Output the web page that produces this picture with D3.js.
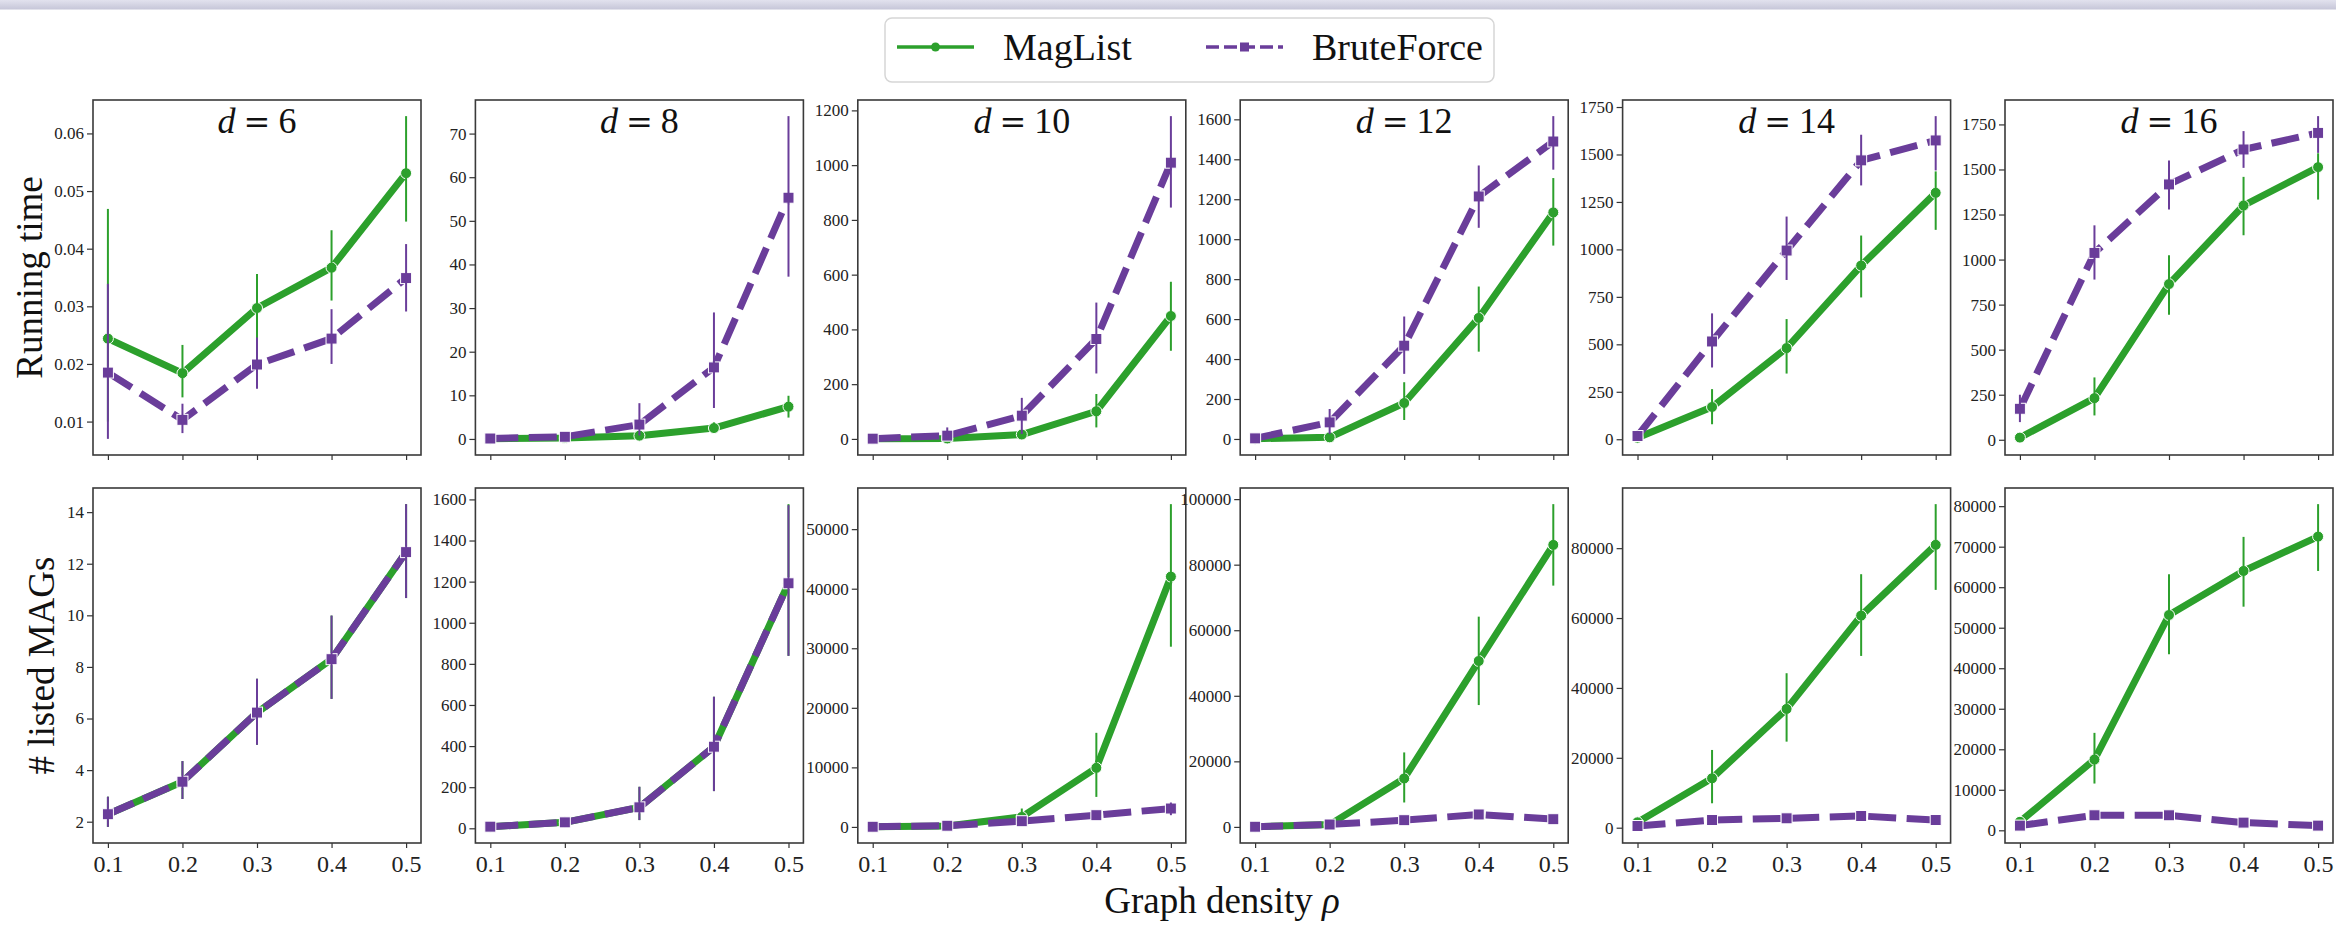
<!DOCTYPE html>
<html>
<head>
<meta charset="utf-8">
<script src="https://cdn.jsdelivr.net/npm/d3@7"></script>
<style>
  body { margin: 0; background: #fff; }
  svg { display: block; }
</style>
</head>
<body>
<div id="plot"></div>
<script>
// ---- data ----
const densities = [0.1, 0.2, 0.3, 0.4, 0.5];
const dValues = [6, 8, 10, 12, 14, 16];
const seriesNames = ["MagList", "BruteForce"];

// running time, one row per d
const timeMag   = [[0.0244, 0.0184, 0.0297, 0.0367, 0.0531], [0.05, 0.2, 0.75, 2.5, 7.4], [0.5, 1.5, 16, 101, 449], [1.5, 8, 180, 606, 1134], [8, 170, 480, 915, 1298], [12, 231, 864, 1300, 1513]];
const timeMagLo = [[0.010, 0.0142, 0.0240, 0.0310, 0.0447], [0.02, 0.1, 0.4, 1.5, 4.9], [0.2, 0.8, 5, 42, 322], [0.5, 3, 95, 437, 968], [3, 79, 346, 747, 1103], [5, 135, 694, 1135, 1333]];
const timeMagHi = [[0.0469, 0.0233, 0.0356, 0.0432, 0.0630], [0.1, 0.35, 1.2, 3.8, 9.9], [1, 2.5, 28, 164, 574], [3, 15, 284, 763, 1306], [15, 264, 633, 1073, 1411], [20, 346, 1024, 1459, 1590]];
const timeBF    = [[0.0185, 0.0103, 0.0199, 0.0244, 0.0349], [0.1, 0.5, 3.3, 16.4, 55.3], [1, 12, 85, 365, 1009], [3, 83, 467, 1214, 1489], [17, 515, 994, 1469, 1574], [172, 1037, 1417, 1611, 1703]];
const timeBFLo  = [[0.0070, 0.0080, 0.0157, 0.0200, 0.0291], [0.09, 0.3, 0.8, 7.1, 37.2], [1.7, 2, 18, 239, 845], [1.6, 25, 326, 1057, 1348], [2, 378, 839, 1337, 1416], [98, 889, 1278, 1509, 1592]];
const timeBFHi  = [[0.0339, 0.0131, 0.0246, 0.0295, 0.0408], [0.2, 0.8, 8.2, 29.0, 74.0], [2, 42, 150, 498, 1179], [5, 150, 613, 1369, 1616], [44, 663, 1173, 1604, 1702], [250, 1190, 1550, 1713, 1796]];

// number of listed MAGs
const countMag   = [[2.29, 3.55, 6.23, 8.30, 12.45], [8, 29, 102, 397, 1192], [40, 150, 1680, 9920, 42030], [60, 700, 14780, 50610, 86040], [1550, 14140, 33990, 60700, 80950], [2100, 17470, 53140, 64010, 72490]];
const countMagLo = [[1.80, 2.88, 4.98, 6.76, 10.67], [7, 22, 40, 181, 839], [20, 80, 400, 5040, 30260], [10, 300, 7450, 37170, 73610], [900, 6990, 24630, 49160, 68060], [1200, 11540, 43430, 55190, 64010]];
const countMagHi = [[2.97, 4.35, 7.54, 9.99, 14.31], [10, 37, 202, 640, 1577], [70, 260, 3090, 15800, 54200], [120, 1200, 22720, 64140, 98470], [2300, 22250, 44210, 72550, 92600], [3200, 24050, 63200, 72420, 80500]];
const countBF    = [[2.29, 3.55, 6.23, 8.30, 12.45], [8, 29, 102, 397, 1192], [30, 200, 960, 1970, 3090], [50, 730, 2050, 3790, 2350], [490, 2200, 2690, 3350, 2200], [1160, 3710, 3710, 1900, 1160]];
const countBFLo  = [[1.80, 2.88, 4.98, 6.76, 10.67], [7, 22, 40, 181, 839], [10, 100, 600, 1500, 1970], [10, 400, 1500, 3000, 1800], [240, 1500, 2000, 2600, 1600], [850, 3000, 3000, 1400, 900]];
const countBFHi  = [[2.97, 4.35, 7.54, 9.99, 14.31], [10, 37, 202, 640, 1572], [60, 300, 1300, 2500, 4100], [100, 1100, 2600, 4600, 2900], [800, 2900, 3400, 4100, 2800], [1500, 4400, 4400, 2400, 1450]];

const timeTicks = [
  [0.01, 0.02, 0.03, 0.04, 0.05, 0.06],
  [0, 10, 20, 30, 40, 50, 60, 70],
  [0, 200, 400, 600, 800, 1000, 1200],
  [0, 200, 400, 600, 800, 1000, 1200, 1400, 1600],
  [0, 250, 500, 750, 1000, 1250, 1500, 1750],
  [0, 250, 500, 750, 1000, 1250, 1500, 1750]];
const countTicks = [
  [2, 4, 6, 8, 10, 12, 14],
  [0, 200, 400, 600, 800, 1000, 1200, 1400, 1600],
  [0, 10000, 20000, 30000, 40000, 50000],
  [0, 20000, 40000, 60000, 80000, 100000],
  [0, 20000, 40000, 60000, 80000],
  [0, 10000, 20000, 30000, 40000, 50000, 60000, 70000, 80000]];

// ---- layout ----
const W = 2336, H = 935;
const green = "#2ca02c", purple = "#6a3d9a";
const panelW = 328, panelH = 355, rowY = [100, 488];
const panelX = i => 93 + i * 382.4;
const serif = "'Liberation Serif', 'Times New Roman', serif";

const svg = d3.select("#plot").append("svg").attr("width", W).attr("height", H);

// thin band at the top of the screenshot
const grad = svg.append("defs").append("linearGradient").attr("id", "band").attr("x1", 0).attr("y1", 0).attr("x2", 0).attr("y2", 1);
grad.append("stop").attr("offset", 0).attr("stop-color", "#e2e2ee");
grad.append("stop").attr("offset", 1).attr("stop-color", "#c6c6d8");
svg.append("rect").attr("width", W).attr("height", 9.5).attr("fill", "url(#band)");

const x = d3.scaleLinear().domain([0.08, 0.52]).range([0, panelW]);

const rows = [
  {label: "Running time", labelX: 42, mag: [timeMag, timeMagLo, timeMagHi], bf: [timeBF, timeBFLo, timeBFHi], ticks: timeTicks},
  {label: "# listed MAGs", labelX: 54, mag: [countMag, countMagLo, countMagHi], bf: [countBF, countBFLo, countBFHi], ticks: countTicks}
];

const line = (y) => d3.line().x(d => x(d.x)).y(d => y(d.y));

rows.forEach((row, r) => {
  dValues.forEach((d, i) => {
    const g = svg.append("g").attr("transform", `translate(${panelX(i)},${rowY[r]})`);

    // matplotlib style autoscale with 5% margins
    const all = [...row.mag[1][i], ...row.mag[2][i], ...row.bf[1][i], ...row.bf[2][i]];
    const lo = d3.min(all), hi = d3.max(all), pad = (hi - lo) * 0.05;
    const y = d3.scaleLinear().domain([lo - pad, hi + pad]).range([panelH, 0]);

    const fmt = (r === 0 && i === 0) ? d3.format(".2f") : d3.format("d");
    const ya = g.append("g").call(d3.axisLeft(y).tickValues(row.ticks[i]).tickSize(6).tickPadding(3).tickFormat(fmt));
    ya.select(".domain").remove();
    ya.selectAll("line").attr("stroke", "#333").attr("stroke-width", 1.2);
    ya.selectAll("text").style("font-family", serif).style("font-size", "17px").attr("fill", "#222");

    const xa = g.append("g").attr("transform", `translate(0,${panelH})`)
      .call(d3.axisBottom(x).tickValues(densities).tickSize(5).tickPadding(7).tickFormat(r === 1 ? d3.format(".1f") : ""));
    xa.select(".domain").remove();
    xa.selectAll("line").attr("stroke", "#333").attr("stroke-width", 1.2);
    xa.selectAll("text").style("font-family", serif).style("font-size", "24px").attr("fill", "#222");

    [[row.mag, green, false], [row.bf, purple, true]].forEach(([s, col, dashed]) => {
      const pts = densities.map((v, k) => ({x: v, y: s[0][i][k], lo: s[1][i][k], hi: s[2][i][k]}));
      g.append("path").datum(pts)
        .attr("d", line(y))
        .attr("fill", "none")
        .attr("stroke", col)
        .attr("stroke-width", 7)
        .attr("stroke-linejoin", "round")
        .attr("stroke-dasharray", dashed ? "28,10.5" : null);
      if (dashed) {
        g.selectAll(null).data(pts).join("rect")
          .attr("x", p => x(p.x) - 5.5).attr("y", p => y(p.y) - 5.5)
          .attr("width", 11).attr("height", 11)
          .attr("fill", col).attr("stroke", "#fff").attr("stroke-width", 1);
      } else {
        g.selectAll(null).data(pts).join("circle")
          .attr("cx", p => x(p.x)).attr("cy", p => y(p.y)).attr("r", 5.5)
          .attr("fill", col).attr("stroke", "#fff").attr("stroke-width", 1);
      }
      g.selectAll(null).data(pts).join("line")
        .attr("x1", p => x(p.x)).attr("x2", p => x(p.x))
        .attr("y1", p => y(p.lo)).attr("y2", p => y(p.hi))
        .attr("stroke", col).attr("stroke-width", 2);
    });

    g.append("rect").attr("width", panelW).attr("height", panelH)
      .attr("fill", "none").attr("stroke", "#3a3a3a").attr("stroke-width", 1.6);

    if (r === 0) {
      const t = g.append("text").attr("x", panelW / 2).attr("y", 33)
        .attr("text-anchor", "middle").attr("font-family", serif).attr("font-size", 36).attr("fill", "#111");
      t.append("tspan").attr("font-style", "italic").text("d");
      t.append("tspan").attr("dx", 8).attr("font-family", "'DejaVu Serif', serif").attr("font-size", 32).text("=");
      t.append("tspan").attr("dx", 8).text(d);
    }
  });

  const cy = rowY[r] + panelH / 2;
  svg.append("text")
    .attr("transform", `translate(${row.labelX},${cy}) rotate(-90)`)
    .attr("text-anchor", "middle")
    .attr("font-family", serif).attr("font-size", 37).attr("fill", "#111")
    .text(row.label);
});

const xt = svg.append("text").attr("x", 1222).attr("y", 913).attr("text-anchor", "middle")
  .attr("font-family", serif).attr("font-size", 37).attr("fill", "#111");
xt.append("tspan").text("Graph density ");
xt.append("tspan").attr("font-style", "italic").text("\u03C1");

// legend
const lg = svg.append("g");
lg.append("rect").attr("x", 885).attr("y", 18).attr("width", 609).attr("height", 64).attr("rx", 7)
  .attr("fill", "#fff").attr("stroke", "#d6d6d6").attr("stroke-width", 1.5);
const legendX = [897, 1206];
seriesNames.forEach((name, k) => {
  const col = k === 0 ? green : purple, x0 = legendX[k];
  lg.append("line").attr("x1", x0).attr("x2", x0 + 77).attr("y1", 47).attr("y2", 47)
    .attr("stroke", col).attr("stroke-width", 3.5).attr("stroke-dasharray", k === 1 ? "13,5" : null);
  if (k === 0) lg.append("circle").attr("cx", x0 + 38.5).attr("cy", 47).attr("r", 4.5).attr("fill", col);
  else lg.append("rect").attr("x", x0 + 34).attr("y", 42.5).attr("width", 9).attr("height", 9).attr("fill", col);
  lg.append("text").attr("x", x0 + 106).attr("y", 60)
    .attr("font-family", serif).attr("font-size", 38).attr("fill", "#111").text(name);
});
</script>
</body>
</html>
